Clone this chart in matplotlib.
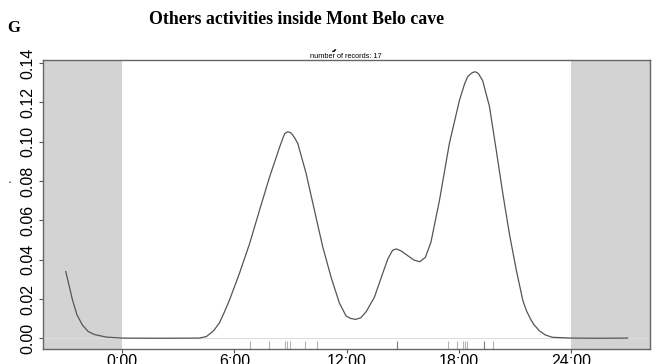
import matplotlib
matplotlib.use("Agg")
import matplotlib.pyplot as plt
from matplotlib.patches import Rectangle
import matplotlib.transforms as mtransforms

# density curve (hours, density), extended 3 h on each side of the day
hours = [-3.0, -2.85, -2.64, -2.4, -2.11, -1.8, -1.47, -0.83, 0.0, 2.0,
         4.14, 4.51, 4.67, 4.9, 5.21, 5.45, 5.74, 6.27, 6.81, 7.34, 7.88,
         8.41, 8.62, 8.7, 8.85, 9.0, 9.11, 9.25, 9.39, 9.83, 10.28, 10.72,
         11.17, 11.61, 11.97, 12.2, 12.47, 12.75, 13.04, 13.48, 13.92, 14.2,
         14.45, 14.65, 14.9, 15.3, 15.6, 15.9, 16.2, 16.5, 16.95, 17.48,
         18.02, 18.3, 18.46, 18.66, 18.82, 18.95, 19.04, 19.26, 19.62,
         19.98, 20.33, 20.69, 21.05, 21.40, 21.6, 21.85, 22.0, 22.29, 22.6,
         22.98, 24.0, 25.5, 27.0]
density = [0.034, 0.028, 0.0195, 0.012, 0.0068, 0.0035, 0.002, 0.0007,
           0.0002, 0.0001, 0.0002, 0.001, 0.0022, 0.004, 0.008, 0.013,
           0.0195, 0.033, 0.048, 0.065, 0.082, 0.097, 0.1025, 0.1042, 0.105,
           0.1046, 0.1035, 0.1015, 0.099, 0.084, 0.065, 0.0466, 0.031, 0.018,
           0.0114, 0.0102, 0.0097, 0.0105, 0.0136, 0.021, 0.033, 0.0405,
           0.0448, 0.0455, 0.0445, 0.0418, 0.0398, 0.039, 0.0412, 0.049,
           0.070, 0.099, 0.121, 0.1295, 0.133, 0.1348, 0.1355, 0.1352, 0.1345,
           0.131, 0.118, 0.096, 0.074, 0.053, 0.035, 0.0195, 0.014, 0.0093,
           0.007, 0.0039, 0.0018, 0.0006, 0.0002, 0.0001, 0.0002]

# record times (decimal hours)
records = [6.84, 7.84, 8.73, 8.82, 8.98, 9.80, 10.40, 14.66, 14.71, 17.39,
           17.88, 18.23, 18.34, 18.42, 19.35, 19.35, 19.80]

tick_hours = [0, 6, 12, 18, 24]
tick_labels = ["0:00", "6:00", "12:00", "18:00", "24:00"]
y_ticks = [0.00, 0.02, 0.04, 0.06, 0.08, 0.10, 0.12, 0.14]

sans = ["Liberation Sans", "DejaVu Sans"]
serif = ["Liberation Serif", "DejaVu Serif"]

fig = plt.figure(figsize=(6.56, 3.64), dpi=100)
ax = fig.add_axes([0.066, 0.0404, 0.925, 0.7948])

ax.set_xlim(-4.2, 28.2)
ax.set_ylim(-0.0055, 0.1415)

# shaded extensions outside the 24 h day
ax.axvspan(-4.2, 0, color="#d3d3d3", lw=0, zorder=0)
ax.axvspan(24, 28.2, color="#d3d3d3", lw=0, zorder=0)
ax.axhline(0, color="#dddddd", lw=0.8, zorder=1)

ax.plot(hours, density, color="#555555", lw=0.9, zorder=3)

# rug of records
trans = mtransforms.blended_transform_factory(ax.transData, ax.transAxes)
ax.vlines(records, 0, 0.03, transform=trans, color="black", alpha=0.3,
          lw=0.8, zorder=2)

for s in ax.spines.values():
    s.set_color("#666666")
    s.set_linewidth(1.0)

ax.set_xticks(tick_hours)
ax.set_xticklabels(tick_labels)
ax.set_yticks(y_ticks)
ax.set_yticklabels([f"{v:.2f}" for v in y_ticks], rotation=90, va="center")
ax.tick_params(direction="out", length=3.1, width=0.8, color="#555555",
               labelsize=11.5)
ax.tick_params(axis="x", pad=0.3)
ax.tick_params(axis="y", pad=2.8)
for lab in ax.get_xticklabels() + ax.get_yticklabels():
    lab.set_family(sans)

# plot title, partly covered by the panel header
ax.text(0.5, 1.039, "Activity of human", transform=ax.transAxes,
        ha="center", va="baseline", fontsize=9.5, fontweight="bold",
        family=sans, zorder=1)
fig.text(346 / 656, 1 - 56 / 364, f"number of records: {len(records)}",
         ha="center", va="center", fontsize=5.3, family=sans)
fig.patches.append(Rectangle((0, 1 - 47.5 / 364), 1, 47.5 / 364,
                             transform=fig.transFigure, color="white",
                             zorder=5))

fig.text(14 / 656, 1 - 28 / 364, "G", ha="center", va="center",
         fontsize=12, fontweight="bold", family=serif, zorder=6)
fig.text(297 / 656, 1 - 20 / 364, "Others activities inside Mont Belo cave",
         ha="center", va="center", fontsize=12.8, fontweight="bold",
         family=serif, zorder=6)
fig.text(14 / 656, 1 - 181 / 364, "'", ha="center", va="center",
         fontsize=7, rotation=90, family=sans)

fig.savefig("out.png", dpi=100)
